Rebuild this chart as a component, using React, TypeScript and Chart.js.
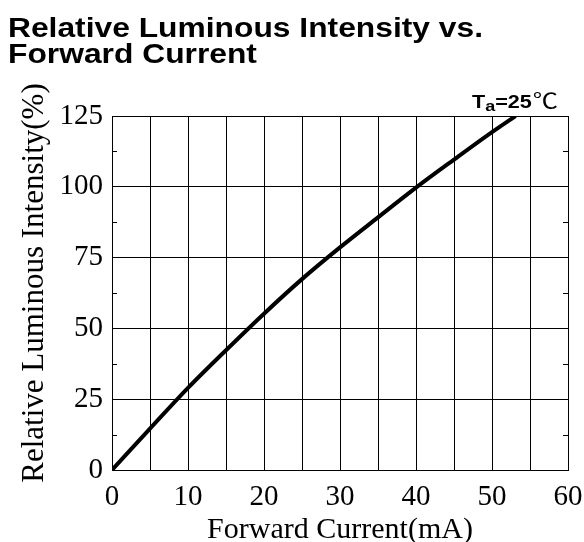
import React, { useEffect, useRef } from "react";
import { Chart, registerables } from "chart.js";

Chart.register(...registerables);

// ---- data ----
const forwardCurrent = [0, 5, 10, 15, 20, 25, 30, 35, 40, 45, 50, 53.1];
const relativeIntensity = [0, 14.6, 29, 42.3, 55.2, 67.4, 78.6, 89.2, 99.7, 109.6, 119.3, 125];
const xTickStep = 5;
const xLabelStep = 10;
const yTickStep = 25;
const yMinorTicks = [12.5, 37.5, 62.5, 87.5, 112.5];
const titleLines = ["Relative Luminous Intensity vs.", "Forward Current"];
const xAxisTitle = "Forward Current(mA)";
const yAxisTitle = "Relative Luminous Intensity(%)";

function drawStretched(ctx: CanvasRenderingContext2D, text: string, font: string, x: number, y: number, sx: number) {
  ctx.save();
  ctx.font = font;
  ctx.translate(x, y);
  ctx.scale(sx, 1);
  ctx.textAlign = "left";
  ctx.textBaseline = "alphabetic";
  ctx.fillText(text, 0, 0);
  const w = ctx.measureText(text).width * sx;
  ctx.restore();
  return w;
}

const overlayPlugin = {
  id: "overlay",
  afterDraw(chart: any) {
    const ctx: CanvasRenderingContext2D = chart.ctx;
    const xs = chart.scales.x;
    const ys = chart.scales.y;
    ctx.save();
    ctx.fillStyle = "#000";
    ctx.strokeStyle = "#000";
    ctx.lineWidth = 1;
    // minor ticks on left and right frame, pointing inward
    ctx.beginPath();
    for (const v of yMinorTicks) {
      const py = Math.round(ys.getPixelForValue(v)) + 0.5;
      ctx.moveTo(xs.left, py);
      ctx.lineTo(xs.left + 5, py);
      ctx.moveTo(xs.right, py);
      ctx.lineTo(xs.right - 5, py);
    }
    ctx.stroke();

    // title (wide bold sans)
    const titleFont = 'bold 27px "Liberation Sans", Arial, sans-serif';
    ctx.font = titleFont;
    const w1 = ctx.measureText(titleLines[0]).width;
    const sx = 475 / w1;
    drawStretched(ctx, titleLines[0], titleFont, 8, 37, sx);
    drawStretched(ctx, titleLines[1], titleFont, 8, 63, sx);

    // Ta=25℃ annotation
    let cx = 472;
    const big = 'bold 18px "Liberation Sans", Arial, sans-serif';
    const small = 'bold 15px "Liberation Sans", Arial, sans-serif';
    const s2 = 1.2;
    cx += drawStretched(ctx, "T", big, cx, 108, s2);
    cx += drawStretched(ctx, "a", small, cx, 111, s2);
    cx += drawStretched(ctx, "=25", big, cx, 108, s2) + 1;
    drawStretched(ctx, "\u2103", '21px "Noto Sans CJK SC", "DejaVu Sans", sans-serif', cx, 108, 1.2);

    // axis titles
    ctx.font = '30px "Liberation Serif", "Times New Roman", serif';
    ctx.textAlign = "center";
    ctx.textBaseline = "alphabetic";
    ctx.fillText(xAxisTitle, (xs.left + xs.right) / 2, 538);
    ctx.save();
    ctx.translate(43, 283);
    ctx.rotate(-Math.PI / 2);
    ctx.font = '31px "Liberation Serif", "Times New Roman", serif';
    ctx.fillText(yAxisTitle, 0, 0);
    ctx.restore();
    ctx.restore();
  },
};

export default function App() {
  const ref = useRef<HTMLCanvasElement | null>(null);
  useEffect(() => {
    if (!ref.current) return;
    const tickFont = { family: '"Liberation Serif", "Times New Roman", serif', size: 29 };
    const chart = new Chart(ref.current, {
      type: "line",
      data: {
        datasets: [
          {
            data: forwardCurrent.map((x, i) => ({ x, y: relativeIntensity[i] })),
            borderColor: "#000",
            borderWidth: 4,
            pointRadius: 0,
            cubicInterpolationMode: "monotone",
            fill: false,
          },
        ],
      },
      options: {
        responsive: false,
        animation: false,
        devicePixelRatio: 1,
        layout: { padding: { top: 116, right: 16, left: 0, bottom: 0 } },
        plugins: { legend: { display: false }, title: { display: false }, tooltip: { enabled: false } },
        scales: {
          x: {
            type: "linear",
            min: 0,
            max: 60,
            grid: { color: "#000", lineWidth: 1, drawTicks: false },
            border: { display: true, color: "#000", width: 1 },
            ticks: {
              stepSize: xTickStep,
              autoSkip: false,
              maxRotation: 0,
              padding: 10,
              color: "#000",
              font: tickFont,
              callback: (v: any) => (Number(v) % xLabelStep === 0 ? String(v) : ""),
            },
            afterFit: (s: any) => {
              s.height = 72;
              s.paddingLeft = 0;
              s.paddingRight = 0;
            },
          },
          y: {
            type: "linear",
            min: 0,
            max: 125,
            grid: { color: "#000", lineWidth: 1, drawTicks: false },
            border: { display: true, color: "#000", width: 1 },
            ticks: { stepSize: yTickStep, padding: 9, color: "#000", font: tickFont },
            afterFit: (s: any) => {
              s.width = 112;
              s.paddingTop = 0;
              s.paddingBottom = 0;
            },
          },
        },
      },
      plugins: [overlayPlugin],
    } as any);
    return () => chart.destroy();
  }, []);
  return (
    <canvas
      ref={ref}
      width={584}
      height={542}
      style={{ position: "fixed", left: 0, top: 0, width: 584, height: 542, background: "#fff" }}
    />
  );
}
